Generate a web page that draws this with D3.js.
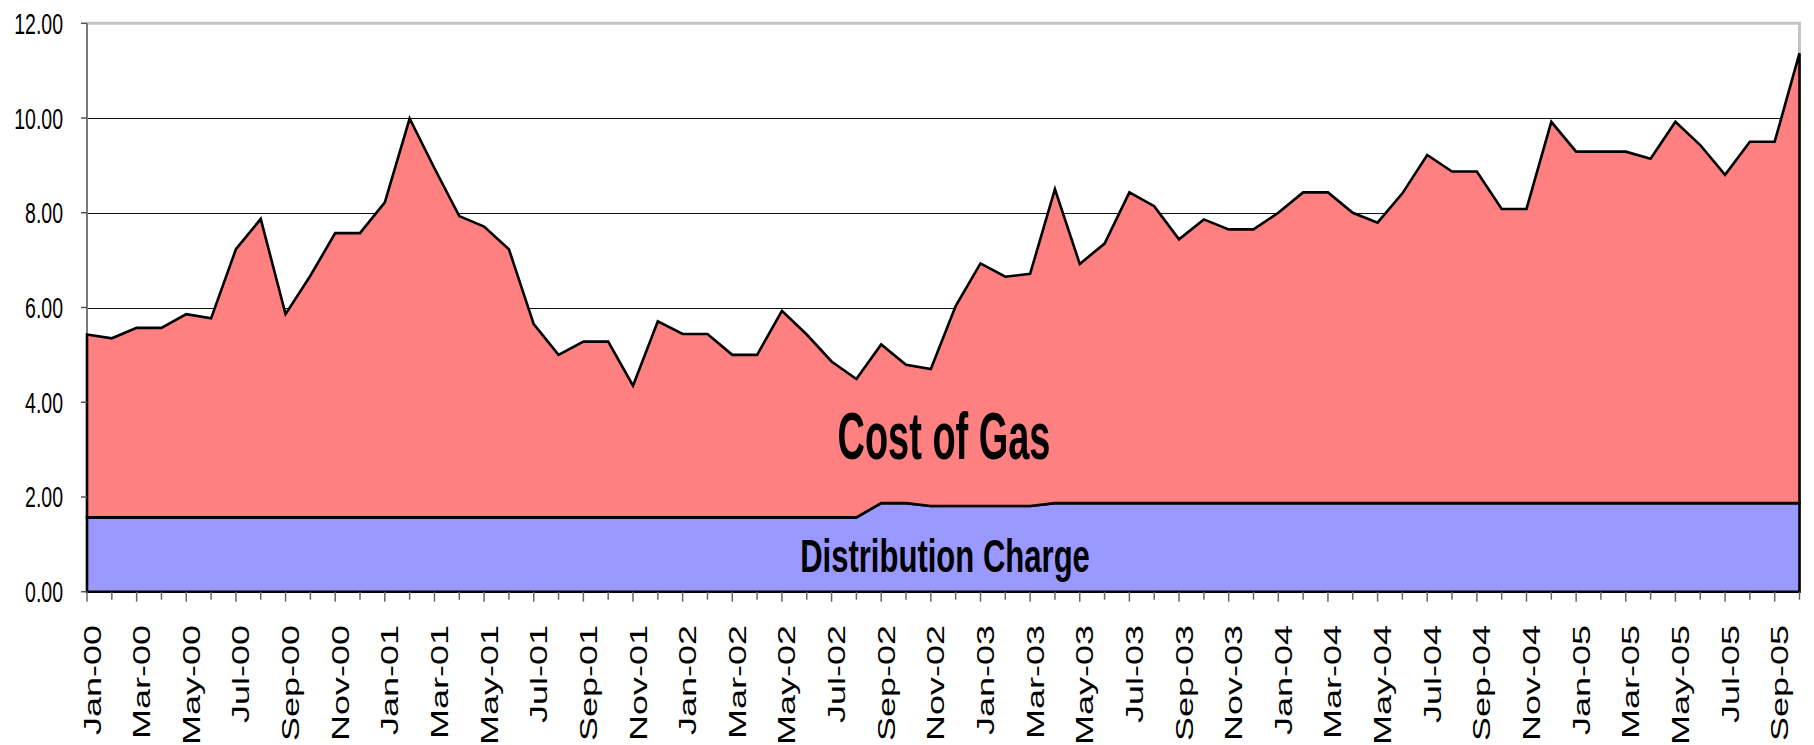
<!DOCTYPE html>
<html>
<head>
<meta charset="utf-8">
<script src="https://cdn.jsdelivr.net/npm/d3@7"></script>
<style>
  html, body { margin: 0; padding: 0; background: #fff; }
  svg { display: block; }
</style>
</head>
<body>
<svg id="chart" width="1814" height="745"></svg>
<script>
// monthly categories, Jan-00 .. Oct-05
const months = d3.timeMonth.range(new Date(2000, 0, 1), new Date(2005, 10, 1));

// distribution charge ($ per unit), bottom band
const distribution = [
  1.57, 1.57, 1.57, 1.57, 1.57, 1.57, 1.57, 1.57, 1.57, 1.57, 1.57, 1.57,
  1.57, 1.57, 1.57, 1.57, 1.57, 1.57, 1.57, 1.57, 1.57, 1.57, 1.57, 1.57,
  1.57, 1.57, 1.57, 1.57, 1.57, 1.57, 1.57, 1.57, 1.87, 1.87, 1.81, 1.81,
  1.81, 1.81, 1.81, 1.87, 1.87, 1.87, 1.87, 1.87, 1.87, 1.87, 1.87, 1.87,
  1.87, 1.87, 1.87, 1.87, 1.87, 1.87, 1.87, 1.87, 1.87, 1.87, 1.87, 1.87,
  1.87, 1.87, 1.87, 1.87, 1.87, 1.87, 1.87, 1.87, 1.87, 1.87
];

// cost of gas, stacked on top of distribution
const gasCost = [
  3.86, 3.78, 4.00, 4.00, 4.29, 4.20, 5.66, 6.30, 4.29, 5.10, 6.00, 6.00,
  6.65, 8.42, 7.37, 6.36, 6.14, 5.66, 4.08, 3.43, 3.71, 3.71, 2.78, 4.14,
  3.87, 3.87, 3.43, 3.43, 4.36, 3.86, 3.29, 2.92, 3.35, 2.92, 2.89, 4.22,
  5.12, 4.84, 4.90, 6.63, 5.05, 5.48, 6.56, 6.27, 5.57, 5.99, 5.78, 5.78,
  6.13, 6.56, 6.56, 6.13, 5.92, 6.54, 7.35, 7.00, 7.00, 6.21, 6.21, 8.05,
  7.42, 7.42, 7.42, 7.27, 8.05, 7.56, 6.93, 7.63, 7.63, 9.50
];

const yTicks = [0, 2, 4, 6, 8, 10, 12];

const plot = { left: 87, right: 1799.5, top: 23.3, bottom: 591.7 };
const squeeze = 0.65; // the original picture is squashed sideways, text too

const svg = d3.select('#chart');
const fmt = d3.timeFormat('%b-%y');
const font = 'Liberation Sans, Arial, sans-serif';

const rows = months.map((m, i) => ({ month: m, distribution: distribution[i], gas: gasCost[i] }));
const stacked = d3.stack().keys(['distribution', 'gas'])(rows);

const x = d3.scaleLinear().domain([0, months.length - 1]).range([plot.left, plot.right]);
const y = d3.scaleLinear().domain([0, 12]).range([plot.bottom, plot.top]);

// gridlines
svg.append('g')
  .selectAll('line')
  .data(yTicks.filter(t => t > 0 && t < 12))
  .enter()
  .append('line')
  .attr('x1', plot.left)
  .attr('x2', plot.right)
  .attr('y1', d => Math.round(y(d)) + 0.5)
  .attr('y2', d => Math.round(y(d)) + 0.5)
  .attr('stroke', '#111')
  .attr('stroke-width', 1);

// plot frame top/right
svg.append('path')
  .attr('d', `M${plot.left},${y(12)} H${plot.right} V${plot.bottom}`)
  .attr('fill', 'none')
  .attr('stroke', '#c4c4c4')
  .attr('stroke-width', 3);

// y axis line (grey, mostly hidden behind the area border)
svg.append('line')
  .attr('x1', plot.left).attr('x2', plot.left)
  .attr('y1', plot.top).attr('y2', plot.bottom)
  .attr('stroke', '#7a7a7a').attr('stroke-width', 2);

// areas
const area = d3.area()
  .x((d, i) => x(i))
  .y0(d => y(d[0]))
  .y1(d => y(d[1]));

const colors = { distribution: '#9999ff', gas: '#ff8080' };

svg.append('g')
  .selectAll('path')
  .data(stacked)
  .enter()
  .append('path')
  .attr('d', area)
  .attr('fill', d => colors[d.key])
  .attr('stroke', '#000')
  .attr('stroke-width', 2.6)
  .attr('stroke-linejoin', 'miter');

// y axis ticks and labels
const yAxis = svg.append('g');
yAxis.selectAll('.ytick')
  .data(yTicks)
  .enter()
  .append('line')
  .attr('x1', plot.left - 6).attr('x2', plot.left)
  .attr('y1', d => y(d)).attr('y2', d => y(d))
  .attr('stroke', '#555').attr('stroke-width', 1.5);
yAxis.selectAll('.ylab')
  .data(yTicks)
  .enter()
  .append('text')
  .attr('transform', d => `translate(63,${y(d) + 10.5}) scale(${squeeze},1)`)
  .attr('text-anchor', 'end')
  .style('font-family', font)
  .style('font-size', '30px')
  .text(d => d3.format('.2f')(d));

// x axis ticks and rotated labels
const xAxis = svg.append('g');
xAxis.selectAll('.xtick')
  .data(months)
  .enter()
  .append('line')
  .attr('x1', (d, i) => x(i)).attr('x2', (d, i) => x(i))
  .attr('y1', plot.bottom).attr('y2', (d, i) => plot.bottom + (i % 2 === 0 ? 10 : 8))
  .attr('stroke', '#666').attr('stroke-width', 1.5);
xAxis.selectAll('.xlab')
  .data(months.filter((d, i) => i % 2 === 0 && i < months.length - 1))
  .enter()
  .append('text')
  .attr('transform', (d, i) => `translate(${x(i * 2) + 13.5},625) rotate(-90) scale(1,${squeeze})`)
  .attr('text-anchor', 'end')
  .style('font-family', font)
  .style('font-size', '36px')
  .text(d => fmt(d));

// series labels
const labels = [
  { text: 'Cost of Gas', x: 944, y: 459, size: 66, sx: 0.575 },
  { text: 'Distribution Charge', x: 945, y: 572, size: 46, sx: 0.675 }
];
svg.append('g')
  .selectAll('text')
  .data(labels)
  .enter()
  .append('text')
  .attr('transform', d => `translate(${d.x},${d.y}) scale(${d.sx},1)`)
  .attr('text-anchor', 'middle')
  .style('font-family', font)
  .style('font-weight', 'bold')
  .style('font-size', d => d.size + 'px')
  .text(d => d.text);
</script>
</body>
</html>
